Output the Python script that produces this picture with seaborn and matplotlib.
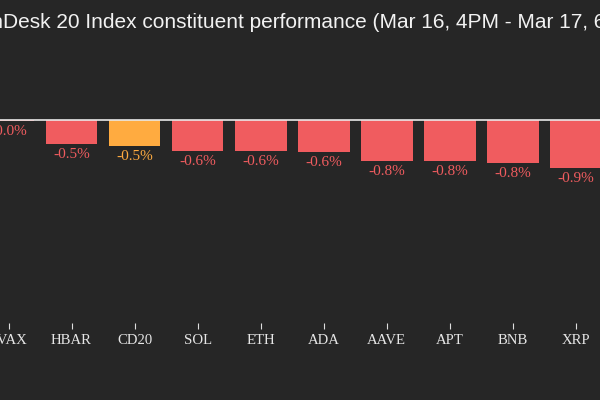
import matplotlib
matplotlib.use("Agg")
import matplotlib.pyplot as plt
import seaborn as sns
import pandas as pd

# ---- data ----
categories = ["AVAX", "HBAR", "CD20", "SOL", "ETH", "ADA", "AAVE", "APT", "BNB", "XRP"]
values = [-0.02, -0.46, -0.49, -0.58, -0.58, -0.60, -0.77, -0.77, -0.81, -0.90]
highlight = "CD20"
title = "CoinDesk 20 Index constituent performance (Mar 16, 4PM - Mar 17, 6PM)"

BG = "#262626"
RED = "#F05C5F"
ORANGE = "#FFAB40"

sns.set_theme(style="dark")
plt.rcParams["font.family"] = ["Liberation Serif", "DejaVu Serif"]

df = pd.DataFrame({"coin": categories, "change": values})
palette = {c: (ORANGE if c == highlight else RED) for c in categories}

fig = plt.figure(figsize=(6, 4), dpi=100, facecolor=BG)
ax = fig.add_axes([0, 77.3 / 400, 1, 272.7 / 400])
ax.set_facecolor(BG)

sns.barplot(data=df, x="coin", y="change", hue="coin", palette=palette,
            width=0.82, legend=False, ax=ax, saturation=1, zorder=2,
            edgecolor="none", linewidth=0)

ax.axhline(0, color="#e8e8e8", lw=1.2, zorder=3)

for i, (c, v) in enumerate(zip(categories, values)):
    ax.annotate(f"{v:.1f}%", (i, v), xytext=(0, -3), textcoords="offset points",
                ha="center", va="top", fontsize=11, color=palette[c],
                family=["Liberation Serif", "DejaVu Serif"])

ax.set_xlim(-8.5 / 63.04, 591.5 / 63.04)
ax.set_ylim(-(322.7 - 119.5) / 53.6, (119.5 - 50) / 53.6)
ax.set_yticks([])
ax.set_xlabel("")
ax.set_ylabel("")
ax.grid(False)
for s in ax.spines.values():
    s.set_visible(False)
ax.tick_params(axis="x", colors="#dddddd", length=4, width=0.8, pad=4,
               labelsize=10.6, bottom=True, direction="out")
for lab in ax.get_xticklabels():
    lab.set_color("#e6e6e6")

# title: positioned so that "Desk" begins near the left edge (the reference is cropped)
renderer = fig.canvas.get_renderer()
tfont = dict(fontsize=15.0, color="#f2f2f2", family=["Liberation Sans", "DejaVu Sans"])
probe = fig.text(0, 0, "Coin", **tfont)
w_prefix = probe.get_window_extent(renderer).width
probe.remove()
fig.text((3 - w_prefix) / 600, 1 - 23 / 400, title, ha="left", va="center", **tfont)

fig.savefig("out.png", dpi=100, facecolor=BG)
